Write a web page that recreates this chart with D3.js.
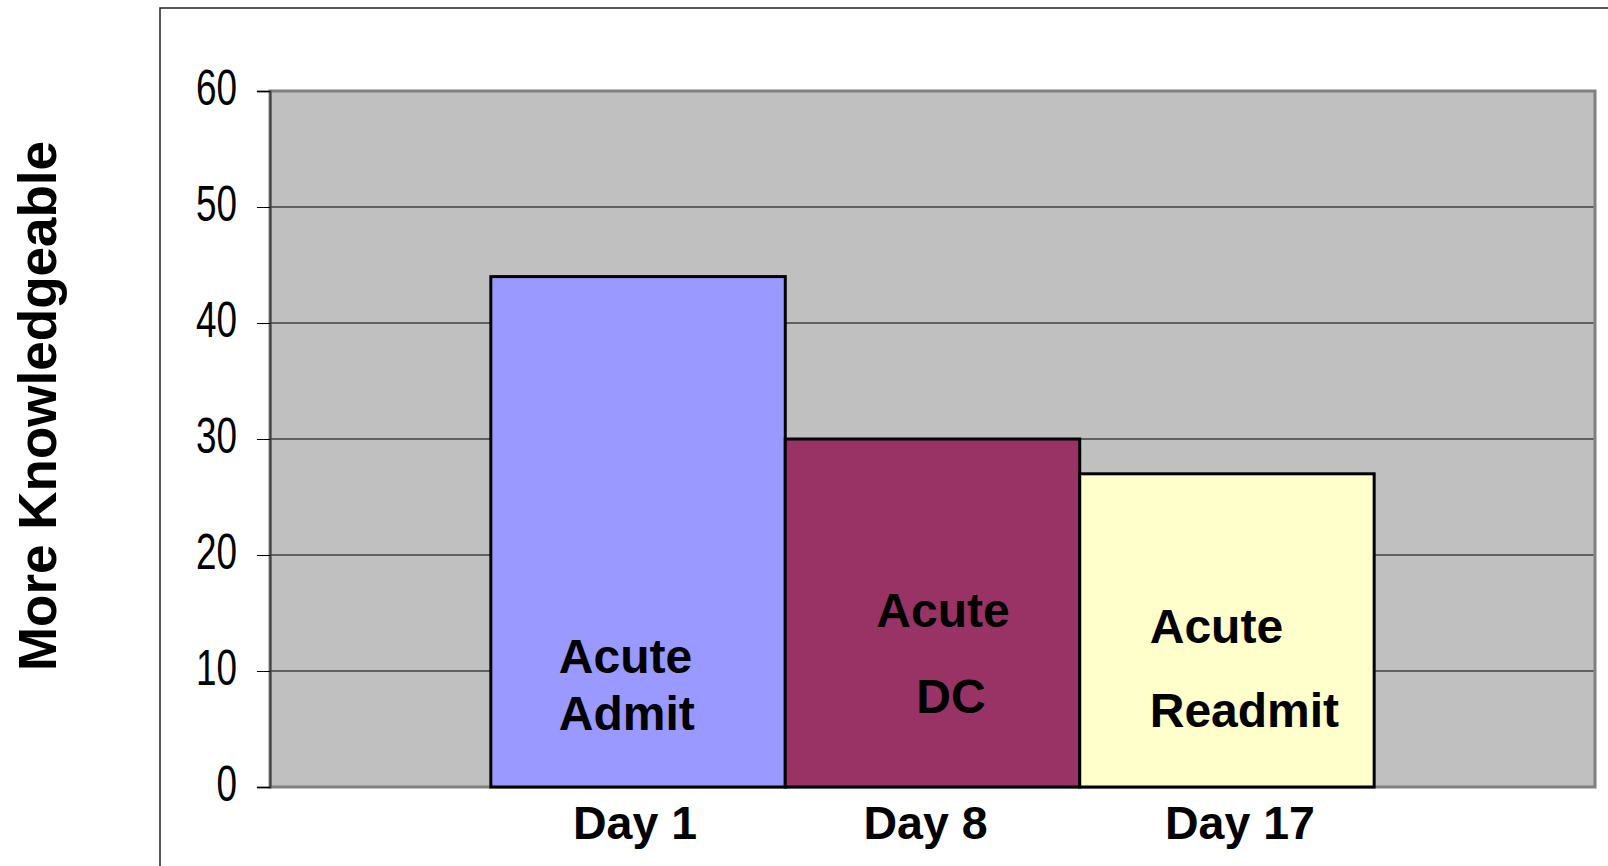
<!DOCTYPE html>
<html>
<head>
<meta charset="utf-8">
<script src="https://cdn.jsdelivr.net/npm/d3@7"></script>
<style>
  html, body { margin: 0; padding: 0; background: #fff; }
  svg { display: block; }
</style>
</head>
<body>
<div id="chart"></div>
<script>
const days = ['Day 1', 'Day 8', 'Day 17'];
const values = [44, 30, 27];
const barColors = ['#9999FF', '#993366', '#FFFFCC'];
const barText = [['Acute', 'Admit'], ['Acute', 'DC'], ['Acute', 'Readmit']];
const yTicks = [0, 10, 20, 30, 40, 50, 60];

// hand placed text boxes, like the original slide
const textPos = [
  { dx: [68, 68], y: [673, 730] },
  { dx: [91, 131], y: [627, 713] },
  { dx: [70, 70], y: [643, 727] }
];
const dayNudge = [-3, -7, 13];

const width = 1608, height = 866;
const plotL = 270, plotR = 1595, plotT = 91, plotB = 787;

const svg = d3.select('#chart').append('svg')
  .attr('width', width).attr('height', height);

// outer frame
svg.append('rect')
  .attr('x', 160).attr('y', 8)
  .attr('width', 1600).attr('height', 1000)
  .attr('fill', 'none').attr('stroke', '#222').attr('stroke-width', 1.5);

const x = d3.scaleBand().domain(days).range([plotL, plotR])
  .paddingInner(0).paddingOuter(0.75);
const y = d3.scaleLinear().domain([0, 60]).range([plotB, plotT]);

// plot area
svg.append('rect')
  .attr('x', plotL).attr('y', y(60))
  .attr('width', plotR - plotL).attr('height', y(0) - y(60))
  .attr('fill', '#C0C0C0').attr('stroke', '#808080').attr('stroke-width', 3);

// gridlines
svg.append('g').selectAll('line')
  .data(yTicks.slice(1, -1))
  .join('line')
  .attr('x1', plotL).attr('x2', plotR - 1.5)
  .attr('y1', d => y(d)).attr('y2', d => y(d))
  .attr('stroke', '#000').attr('stroke-width', 1);

// y axis (narrow, tall digits)
const yAxis = d3.axisLeft(y).tickValues(yTicks).tickSize(13).tickPadding(20);
const ga = svg.append('g').attr('transform', `translate(${plotL},0)`).call(yAxis);
ga.select('.domain').attr('stroke', '#404040').attr('stroke-width', 2);
ga.selectAll('.tick line').attr('stroke', '#000');
ga.selectAll('.tick text')
  .attr('font-family', '"Liberation Sans", Arial, sans-serif')
  .attr('font-size', 50)
  .attr('fill', '#000')
  .attr('dy', '0.26em')
  .attr('textLength', function () { return this.textContent.length * 20.5; })
  .attr('lengthAdjust', 'spacingAndGlyphs');

// bars
svg.append('g').selectAll('rect')
  .data(days)
  .join('rect')
  .attr('x', d => x(d))
  .attr('y', (d, i) => y(values[i]))
  .attr('width', x.bandwidth())
  .attr('height', (d, i) => y(0) - y(values[i]))
  .attr('fill', (d, i) => barColors[i])
  .attr('stroke', '#000').attr('stroke-width', 3);

const font = '"Liberation Sans", Arial, Helvetica, sans-serif';

// text inside bars
days.forEach((d, i) => {
  barText[i].forEach((t, j) => {
    svg.append('text')
      .attr('x', x(d) + textPos[i].dx[j])
      .attr('y', textPos[i].y[j])
      .attr('font-family', font).attr('font-weight', 'bold')
      .attr('font-size', 48).attr('fill', '#000')
      .text(t);
  });
});

// category labels
svg.append('g').selectAll('text')
  .data(days)
  .join('text')
  .attr('x', (d, i) => x(d) + x.bandwidth() / 2 + dayNudge[i])
  .attr('y', 839)
  .attr('text-anchor', 'middle')
  .attr('font-family', font).attr('font-weight', 'bold')
  .attr('font-size', 46.5).attr('fill', '#000')
  .text(d => d);

// y title
svg.append('text')
  .attr('transform', 'translate(56,406) rotate(-90)')
  .attr('text-anchor', 'middle')
  .attr('font-family', font).attr('font-weight', 'bold')
  .attr('font-size', 53).attr('fill', '#000')
  .text('More Knowledgeable');
</script>
</body>
</html>
